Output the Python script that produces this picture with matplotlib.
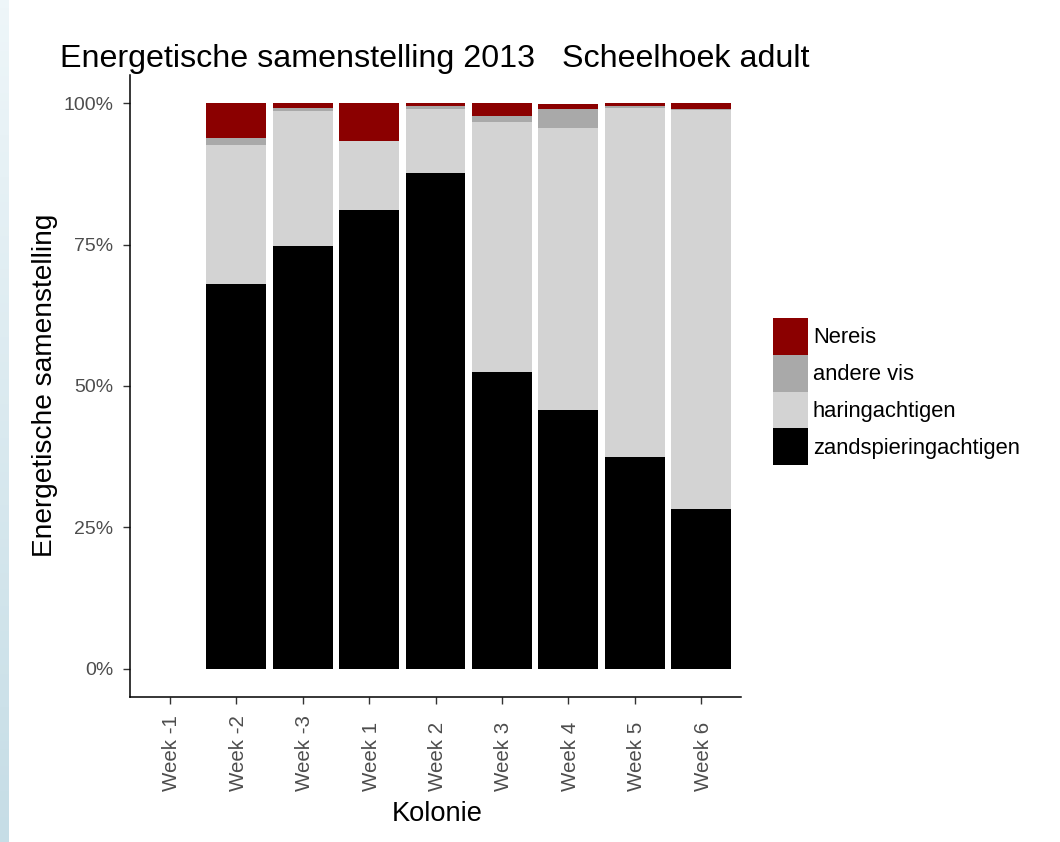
import numpy as np
import matplotlib
matplotlib.use("Agg")
import matplotlib.pyplot as plt
import matplotlib.transforms as mtransforms
from matplotlib.patches import Patch
from matplotlib.ticker import FuncFormatter

plt.rcParams['font.family'] = ['Liberation Sans', 'DejaVu Sans']

# --- data (fractions of energy per week) ---
weeks = ["Week -1", "Week -2", "Week -3", "Week 1", "Week 2",
         "Week 3", "Week 4", "Week 5", "Week 6"]
zandspiering = [0.0, 0.681, 0.747, 0.812, 0.876, 0.524, 0.457, 0.375, 0.283]
haring       = [0.0, 0.245, 0.239, 0.121, 0.113, 0.443, 0.499, 0.617, 0.705]
andere_vis   = [0.0, 0.013, 0.005, 0.000, 0.007, 0.010, 0.034, 0.004, 0.002]
nereis       = [0.0, 0.061, 0.009, 0.067, 0.004, 0.023, 0.009, 0.004, 0.010]

series = [
    ("zandspieringachtigen", zandspiering, "#000000"),
    ("haringachtigen",       haring,       "#D3D3D3"),
    ("andere vis",           andere_vis,   "#A9A9A9"),
    ("Nereis",               nereis,       "#8B0000"),
]

W, H = 1060, 842
fig = plt.figure(figsize=(W / 100, H / 100), dpi=100)

# light blue slide edge on the left
edge = fig.add_axes([0, 0, 9 / W, 1])
edge.imshow(np.linspace(0, 1, 100).reshape(-1, 1), aspect='auto',
            cmap=matplotlib.colors.LinearSegmentedColormap.from_list(
                "edge", ["#eef6f9", "#c6dde6"]))
edge.axis('off')

ax = fig.add_axes([130 / W, 1 - 697 / H, (741 - 130) / W, (697 - 75) / H])

x = np.arange(1, len(weeks) + 1)
bottom = np.zeros(len(weeks))
for name, vals, col in series:
    vals = np.array(vals)
    ax.bar(x, vals, width=0.9, bottom=bottom, color=col, linewidth=0)
    bottom += vals

ax.set_xlim(0.4, len(weeks) + 0.6)
ax.set_ylim(-0.05, 1.05)
ax.set_yticks([0, 0.25, 0.5, 0.75, 1.0])
ax.yaxis.set_major_formatter(FuncFormatter(lambda v, p: f"{v * 100:.0f}%"))
ax.set_xticks(x)
ax.set_xticklabels([])

for s in ["top", "right"]:
    ax.spines[s].set_visible(False)
for s in ["left", "bottom"]:
    ax.spines[s].set_linewidth(1.1)
    ax.spines[s].set_color("black")
ax.tick_params(axis='both', length=5, width=1.0, color="#333333",
               labelsize=14, labelcolor="#4D4D4D")
ax.tick_params(axis='y', pad=7)

# rotated x labels, aligned at their bottom ends
trans = mtransforms.blended_transform_factory(ax.transData, fig.transFigure)
for xi, lab in zip(x, weeks):
    ax.text(xi + 0.03, 1 - 791 / H, lab, rotation=90, ha='center', va='bottom',
            fontsize=14.8, color="#4D4D4D", transform=trans)

fig.text(60 / W, 1 - 67 / H, "Energetische samenstelling 2013   Scheelhoek adult",
         fontsize=23.2, ha='left', va='baseline', color="black")
fig.text(45 / W, 1 - 385 / H, "Energetische samenstelling", rotation=90,
         fontsize=20.2, ha='center', va='center', color="black")
fig.text(437 / W, 1 - 821 / H, "Kolonie", fontsize=19.6, ha='center',
         va='baseline', color="black")

handles = [Patch(facecolor=c, edgecolor='none', label=n) for n, _, c in series[::-1]]
fig.legend(handles=handles, loc='upper left',
           bbox_to_anchor=(773 / W, 1 - 318 / H), frameon=False,
           fontsize=15.8, handlelength=1.6, handleheight=2.2,
           handletextpad=0.22, labelspacing=0.0, borderpad=0,
           borderaxespad=0)

fig.savefig("out.png", dpi=100, facecolor="white")
